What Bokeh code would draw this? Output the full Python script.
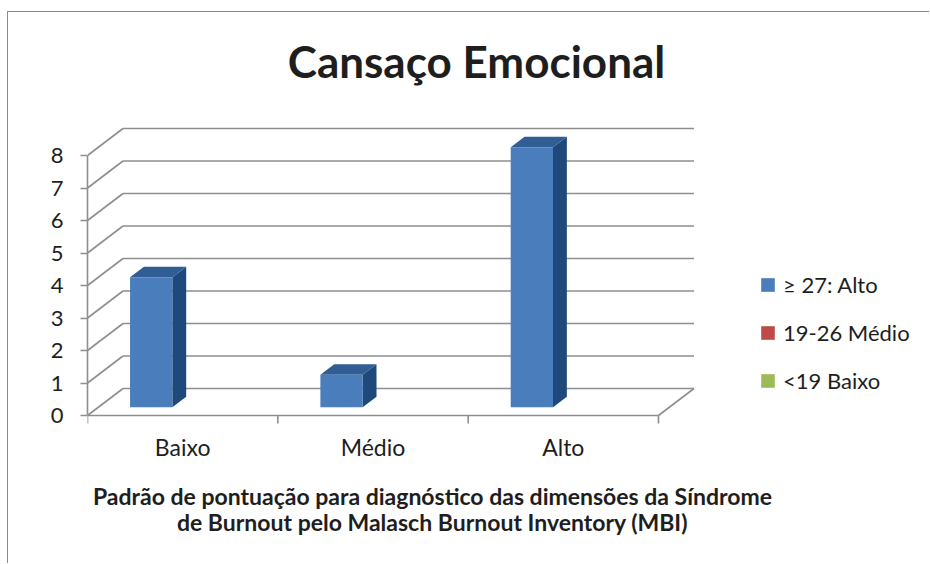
from bokeh.plotting import figure
from bokeh.models import Range1d, FixedTicker, Legend, LegendItem
from bokeh.core.properties import value
from bokeh.embed import file_html
from bokeh.resources import INLINE

# ---------------- data ----------------
categories = ["Baixo", "Médio", "Alto"]
series_names = ["≥ 27: Alto", "19-26 Médio", "<19 Baixo"]
series_alto = [4, 1, 8]
series_medio = [0, 0, 0]
series_baixo = [0, 0, 0]
y_ticks = [0, 1, 2, 3, 4, 5, 6, 7, 8]
title_text = "Cansaço Emocional"
x_title_lines = [
    "Padrão de pontuação para diagnóstico das dimensões da Síndrome",
    "de Burnout pelo Malasch Burnout Inventory (MBI)",
]

# ---------------- layout / style ----------------
FONT = "Lato"
TEXT_COLOR = "#1e1e1e"
GRID_COLOR = "#8e8e8e"
SERIES_COLORS = ["#4a7dbc", "#be4b48", "#9bbb59"]
TOP_COLOR = "#2f5d94"
SIDE_COLOR = "#1d4a7b"

W, H = 922, 552
ML = 79
FRAME_W = W - ML
FRAME_H = H
SX = 190.33          # px per category
SY = 32.5            # px per value unit
ZERO_FROM_TOP = 403  # px from frame top to front value 0
DEPTH_DX = 35.5 / SX
DEPTH_DY = 27.0 / SY
BAR_F0, BAR_F1 = 0.305, 0.695   # depth fractions of the bars
GAP = 1.5                       # gap width relative to a bar
NSER = len(series_names)
BAR_W = 1.0 / (NSER + GAP)


def fx(px):   # horizontal px offset from frame left -> data
    return px / SX


def fy(px):   # vertical px offset from front zero line (positive = up) -> data
    return px / SY


y_start = -(FRAME_H - ZERO_FROM_TOP) / SY
y_end = ZERO_FROM_TOP / SY

p = figure(width=W, height=H, output_backend="svg", toolbar_location=None,
           title=None, x_axis_location=None, y_axis_location="left",
           x_range=Range1d(0, FRAME_W / SX), y_range=Range1d(y_start, y_end),
           min_border_left=ML, min_border_right=0, min_border_top=0, min_border_bottom=0)
p.outline_line_color = None
p.grid.visible = False
p.styles = {"border-left": "1px solid #8a8a8a", "border-top": "1px solid #8a8a8a",
            "margin-top": "11px", "margin-left": "7px"}

ncat = len(categories)

# ---- walls: back gridlines, left-wall diagonals, floor ----
p.segment(x0=[DEPTH_DX] * len(y_ticks), y0=[v + DEPTH_DY for v in y_ticks],
          x1=[ncat + DEPTH_DX] * len(y_ticks), y1=[v + DEPTH_DY for v in y_ticks],
          line_color=GRID_COLOR, line_width=1.6)
p.segment(x0=[0] * len(y_ticks), y0=y_ticks,
          x1=[DEPTH_DX] * len(y_ticks), y1=[v + DEPTH_DY for v in y_ticks],
          line_color=GRID_COLOR, line_width=1.6)
p.segment(x0=[0, ncat], y0=[0, 0], x1=[ncat, ncat + DEPTH_DX], y1=[0, DEPTH_DY],
          line_color=GRID_COLOR, line_width=1.6)
# category tick marks
p.segment(x0=list(range(ncat + 1)), y0=[0] * (ncat + 1),
          x1=list(range(ncat + 1)), y1=[-fy(8)] * (ncat + 1),
          line_color=GRID_COLOR, line_width=1.6)

# ---- bars ----
all_series = [series_alto, series_medio, series_baixo]
front_renderers = []
for s, vals in enumerate(all_series):
    x0s = [i + GAP / 2 * BAR_W + s * BAR_W for i in range(ncat)]
    x1s = [x + BAR_W for x in x0s]
    vis = [k for k, v in enumerate(vals) if v > 0]
    # side faces
    p.patches(
        xs=[[x1s[k] + BAR_F0 * DEPTH_DX, x1s[k] + BAR_F0 * DEPTH_DX,
             x1s[k] + BAR_F1 * DEPTH_DX, x1s[k] + BAR_F1 * DEPTH_DX] for k in vis],
        ys=[[BAR_F0 * DEPTH_DY, vals[k] + BAR_F0 * DEPTH_DY,
             vals[k] + BAR_F1 * DEPTH_DY, BAR_F1 * DEPTH_DY] for k in vis],
        fill_color=SIDE_COLOR, line_color=None)
    # top faces
    p.patches(
        xs=[[x0s[k] + BAR_F0 * DEPTH_DX, x1s[k] + BAR_F0 * DEPTH_DX,
             x1s[k] + BAR_F1 * DEPTH_DX, x0s[k] + BAR_F1 * DEPTH_DX] for k in vis],
        ys=[[vals[k] + BAR_F0 * DEPTH_DY, vals[k] + BAR_F0 * DEPTH_DY,
             vals[k] + BAR_F1 * DEPTH_DY, vals[k] + BAR_F1 * DEPTH_DY] for k in vis],
        fill_color=TOP_COLOR, line_color=None)
    # front faces
    r = p.vbar(x=[x + BAR_W / 2 + BAR_F0 * DEPTH_DX for x in x0s], width=BAR_W,
               bottom=BAR_F0 * DEPTH_DY, top=[v + BAR_F0 * DEPTH_DY for v in vals],
               fill_color=SERIES_COLORS[s], line_color=None)
    front_renderers.append(r)

# ---- y axis ----
ax = p.yaxis[0]
ax.bounds = (0, max(y_ticks))
ax.ticker = FixedTicker(ticks=y_ticks, minor_ticks=[])
ax.axis_line_color = GRID_COLOR
ax.axis_line_width = 1.6
ax.major_tick_line_color = GRID_COLOR
ax.major_tick_line_width = 1.6
ax.major_tick_out = 7
ax.major_tick_in = 0
ax.minor_tick_line_color = None
ax.major_label_standoff = 17
ax.major_label_text_font = FONT
ax.major_label_text_font_size = "22px"
ax.major_label_text_color = TEXT_COLOR

# ---- category labels ----
p.text(x=[i + 0.5 for i in range(ncat)], y=[-fy(31)] * ncat, text=categories,
       text_font=value(FONT), text_font_size="23px", text_color=TEXT_COLOR,
       text_align="center", text_baseline="middle")

# ---- axis title (two lines) ----
p.text(x=[fx(345)] * 2, y=[-fy(80), -fy(106)], text=x_title_lines,
       text_font=value(FONT), text_font_style="bold", text_font_size="23px",
       text_color=TEXT_COLOR, text_align="center", text_baseline="middle")

# ---- chart title ----
p.text(x=[fx(389)], y=[fy(355)], text=[title_text],
       text_font=value(FONT), text_font_style="bold", text_font_size="44px",
       text_color=TEXT_COLOR, text_align="center", text_baseline="middle")

# ---- legend ----
legend = Legend(items=[LegendItem(label=series_names[s], renderers=[front_renderers[s]])
                       for s in range(NSER)],
                location=(672, 170), orientation="vertical",
                glyph_width=17, glyph_height=17, label_standoff=7, spacing=21,
                padding=0, margin=0, border_line_color=None, background_fill_alpha=0,
                label_text_font=FONT, label_text_font_size="22px",
                label_text_color=TEXT_COLOR)
p.add_layout(legend, "center")

open("out.html", "w").write(file_html(p, INLINE))
